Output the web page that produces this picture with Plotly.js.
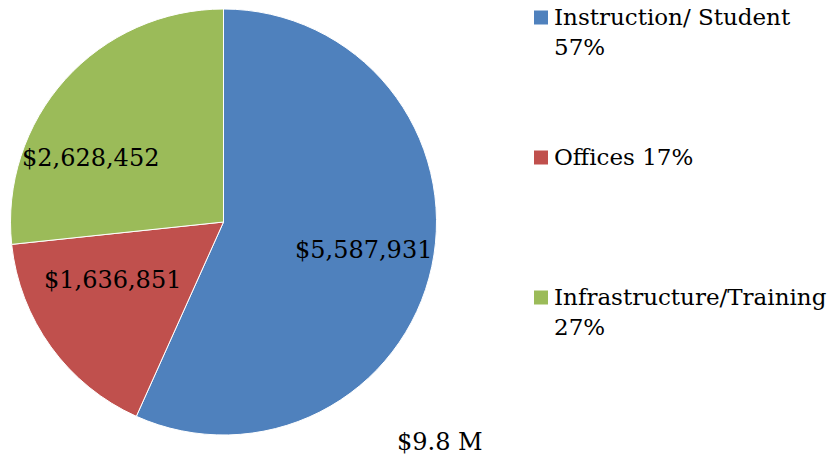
<!DOCTYPE html>
<html><head><meta charset="utf-8">
<script src="https://cdn.plot.ly/plotly-3.0.1.min.js"></script>
<style>html,body{margin:0;padding:0;background:#fff}#chart{width:827px;height:456px}</style>
</head><body><div id="chart"></div>
<script>
const categories = ["Instruction/ Student", "Offices", "Infrastructure/Training"];
const values = [5587931, 1636851, 2628452];
const sliceLabels = ["$5,587,931", "$1,636,851", "$2,628,452"];
const legendLabels = ["Instruction/ Student<br>57%", "Offices 17%", "Infrastructure/Training<br>27%"];
const colors = ["#4F81BD", "#C0504D", "#9BBB59"];
const totalLabel = "$9.8 M";

// layout (pixel positions of data-label centres, legend rows)
const labelPos = [[363, 250], [112, 280], [90, 158]];
const legendY = [17.5, 157.5, 297.5];

const font = "DejaVu Serif";
const W = 827, H = 456;

const trace = {
  type: "pie",
  labels: categories,
  values: values,
  text: sliceLabels,
  textinfo: "none",
  sort: false,
  direction: "clockwise",
  rotation: 0,
  marker: {colors: colors, line: {color: "#ffffff", width: 1}},
  hoverinfo: "label+value+percent",
  showlegend: false,
  domain: {x: [10.5 / W, 436.5 / W], y: [(H - 435) / H, (H - 9) / H]}
};

const shapes = [], annotations = [];
categories.forEach((c, i) => {
  const cy = legendY[i];
  shapes.push({type: "rect", xref: "paper", yref: "paper",
    x0: 534 / W, x1: 548 / W, y0: (H - cy - 7) / H, y1: (H - cy + 7) / H,
    fillcolor: colors[i], line: {width: 0}});
  annotations.push({xref: "paper", yref: "paper", x: 552 / W, y: (H - cy + 16) / H,
    xanchor: "left", yanchor: "top", align: "left", showarrow: false,
    text: legendLabels[i], font: {family: font, size: 23, color: "#000"}});
  annotations.push({xref: "paper", yref: "paper", x: labelPos[i][0] / W, y: (H - labelPos[i][1]) / H,
    xanchor: "center", yanchor: "middle", showarrow: false,
    text: sliceLabels[i], font: {family: font, size: 24, color: "#000"}});
});
annotations.push({xref: "paper", yref: "paper", x: 440 / W, y: (H - 442) / H,
  xanchor: "center", yanchor: "middle", showarrow: false, text: totalLabel,
  font: {family: font, size: 24, color: "#000"}});

Plotly.newPlot("chart", [trace], {
  width: W, height: H, margin: {l: 0, r: 0, t: 0, b: 0},
  paper_bgcolor: "#fff", showlegend: false, shapes: shapes, annotations: annotations
}, {displayModeBar: false, staticPlot: true});
</script></body></html>
